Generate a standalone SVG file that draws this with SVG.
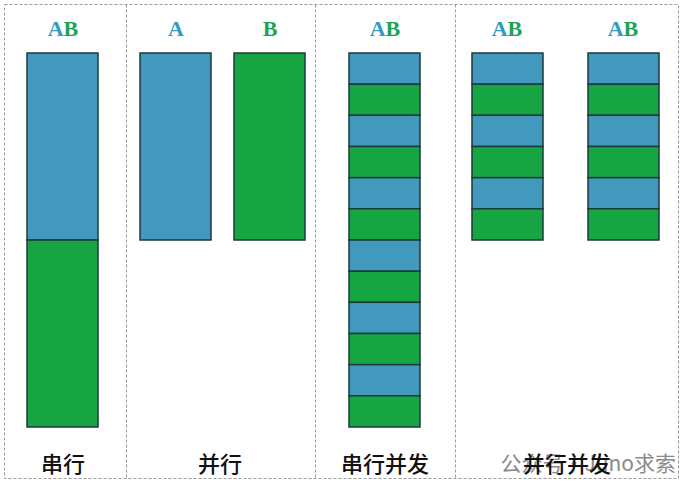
<svg xmlns="http://www.w3.org/2000/svg" width="683" height="483" viewBox="0 0 683 483">
<style>
.frame{fill:none;stroke:#9a9a9a;stroke-width:1;stroke-dasharray:3,2}
.b{fill:#4299bd;stroke:#1b3b3b;stroke-width:1.5}
.g{fill:#17a443;stroke:#1b3b3b;stroke-width:1.5}
.t{font-family:"Liberation Serif",serif;font-weight:bold;font-size:22px;text-anchor:middle}
.ta{fill:#2e9cc4}
.tb{fill:#1ea256}
.lab{font-family:"Noto Sans CJK SC",sans-serif;font-size:22px;text-anchor:middle;fill:#111;font-weight:500}
.wm{font-family:"Noto Sans CJK SC",sans-serif;font-size:21px;fill:#8a8a8a;text-anchor:end}
</style>
<rect width="683" height="483" fill="#ffffff"/>
<g id="frame">
<rect class="frame" x="4.5" y="4.5" width="674" height="474"/>
<line class="frame" x1="126.5" y1="4.5" x2="126.5" y2="478.5"/>
<line class="frame" x1="315.5" y1="4.5" x2="315.5" y2="478.5"/>
<line class="frame" x1="455.5" y1="4.5" x2="455.5" y2="478.5"/>
</g>
<g id="serial">
<text class="t" x="63" y="36"><tspan class="ta">A</tspan><tspan class="tb">B</tspan></text>
<rect class="b" x="27" y="53" width="71" height="187"/>
<rect class="g" x="27" y="240" width="71" height="187"/>
<text class="lab" x="63" y="472">串行</text>
</g>
<g id="parallel">
<text class="t ta" x="176" y="36">A</text>
<text class="t tb" x="270" y="36">B</text>
<rect class="b" x="140" y="53" width="71" height="187"/>
<rect class="g" x="234" y="53" width="71" height="187"/>
<text class="lab" x="220" y="472">并行</text>
</g>
<g id="serial-concurrent">
<text class="t" x="385" y="36"><tspan class="ta">A</tspan><tspan class="tb">B</tspan></text>
<rect class="b" x="349" y="53" width="71" height="31.2"/>
<rect class="g" x="349" y="84.2" width="71" height="31.2"/>
<rect class="b" x="349" y="115.3" width="71" height="31.2"/>
<rect class="g" x="349" y="146.5" width="71" height="31.2"/>
<rect class="b" x="349" y="177.7" width="71" height="31.2"/>
<rect class="g" x="349" y="208.8" width="71" height="31.2"/>
<rect class="b" x="349" y="240" width="71" height="31.2"/>
<rect class="g" x="349" y="271.2" width="71" height="31.2"/>
<rect class="b" x="349" y="302.3" width="71" height="31.2"/>
<rect class="g" x="349" y="333.5" width="71" height="31.2"/>
<rect class="b" x="349" y="364.7" width="71" height="31.2"/>
<rect class="g" x="349" y="395.8" width="71" height="31.2"/>
<text class="lab" x="385" y="472">串行并发</text>
</g>
<g id="parallel-concurrent">
<text class="t" x="507" y="36"><tspan class="ta">A</tspan><tspan class="tb">B</tspan></text>
<text class="t" x="623" y="36"><tspan class="ta">A</tspan><tspan class="tb">B</tspan></text>
<rect class="b" x="472" y="53" width="71" height="31.2"/>
<rect class="g" x="472" y="84.2" width="71" height="31.2"/>
<rect class="b" x="472" y="115.3" width="71" height="31.2"/>
<rect class="g" x="472" y="146.5" width="71" height="31.2"/>
<rect class="b" x="472" y="177.7" width="71" height="31.2"/>
<rect class="g" x="472" y="208.8" width="71" height="31.2"/>
<rect class="b" x="588" y="53" width="71" height="31.2"/>
<rect class="g" x="588" y="84.2" width="71" height="31.2"/>
<rect class="b" x="588" y="115.3" width="71" height="31.2"/>
<rect class="g" x="588" y="146.5" width="71" height="31.2"/>
<rect class="b" x="588" y="177.7" width="71" height="31.2"/>
<rect class="g" x="588" y="208.8" width="71" height="31.2"/>
<text class="wm" x="676" y="471">公众号·Juno求索</text>
<text class="lab" x="567" y="472">并行并发</text>
</g>
</svg>
